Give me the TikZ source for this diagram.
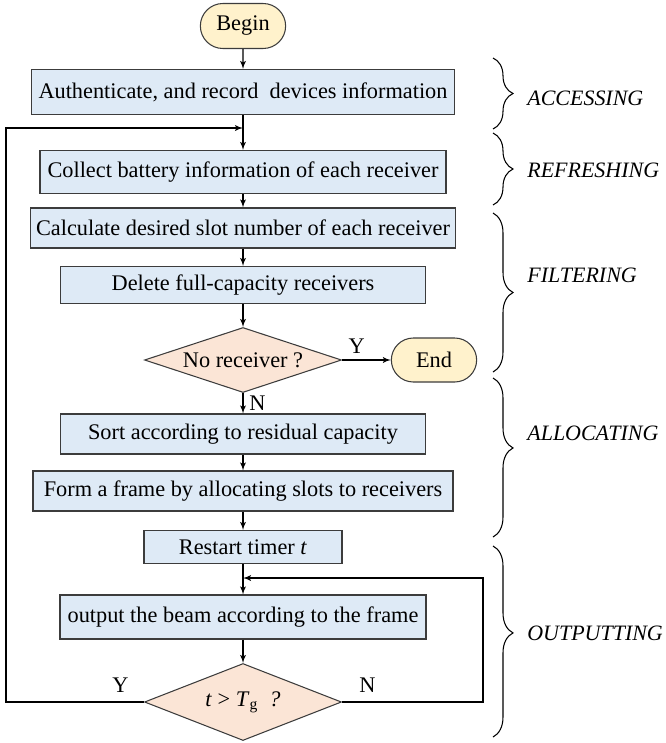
\documentclass[tikz,border=0pt]{standalone}
\usepackage{fontspec}
\setmainfont{Liberation Serif}
\usetikzlibrary{shapes,arrows,decorations.pathreplacing}
\definecolor{boxblue}{RGB}{222,234,246}
\definecolor{termyellow}{RGB}{255,242,204}
\definecolor{decpink}{RGB}{251,229,214}
\definecolor{edgegray}{RGB}{60,60,60}
\tikzstyle{blockBL} = [rectangle, draw=edgegray, fill=boxblue, text centered, minimum height=0.8cm]
\tikzstyle{terminalYL} = [rounded rectangle, draw=edgegray, fill=termyellow, minimum width=1.94cm, minimum height=0.9cm]
\tikzstyle{decisionPK} = [diamond, draw=edgegray, fill=decpink, aspect=3, inner sep=0pt, minimum width=3.94cm]
\tikzstyle{line} = [draw, -latex']
\tikzstyle{phase} = [draw, decorate, decoration={brace, amplitude=0.4cm}]
\tikzstyle{phaselabel} = [anchor=west, font=\fontsize{12.5}{14}\selectfont\itshape]

\begin{document}
\begin{tikzpicture}[node distance = 2cm, auto,
  font=\fontsize{12.7}{15}\selectfont, line width=0.6pt
  ]
    \useasboundingbox (0,0) rectangle (13.3,-14.86);

    % nodes
    \node [terminalYL] (begin) at (4.86,-0.52) {Begin};
    \node [blockBL, below of = begin, node distance = 1.32cm, minimum width=8.46cm, minimum height=0.9cm] (auth) {Authenticate, and record\ \ devices information};
    \coordinate [below of = auth, node distance = 0.72cm] (join1);
    \node [blockBL, below of = auth, node distance = 1.6cm, minimum width=8.12cm, minimum height=0.86cm] (collect) {Collect battery information of each receiver};
    \node [blockBL, below of = collect, node distance = 1.12cm, minimum width=8.48cm] (calc) {Calculate desired slot number of each receiver};
    \node [blockBL, below of = calc, node distance = 1.14cm, minimum width=7.3cm, minimum height=0.74cm] (delete) {Delete full-capacity receivers};
    \node [decisionPK, below of = delete, node distance = 1.5cm, minimum height=1.3cm] (norecv) {No receiver ?};
    \node [terminalYL, right of = norecv, node distance = 3.82cm, minimum height=0.88cm] (end) {End};
    \node [blockBL, below of = norecv, node distance = 1.48cm, minimum width=7.3cm] (sort) {Sort according to residual capacity};
    \node [blockBL, below of = sort, node distance = 1.14cm, minimum width=8.4cm] (form) {Form a frame by allocating slots to receivers};
    \node [blockBL, below of = form, node distance = 1.12cm, minimum width=3.96cm, minimum height=0.66cm] (restart) {Restart timer \textit{t}};
    \coordinate [below of = restart, node distance = 0.62cm] (join2);
    \node [blockBL, below of = restart, node distance = 1.4cm, minimum width=7.32cm, minimum height=0.88cm] (output) {output the beam according to the frame};
    \node [decisionPK, below of = output, node distance = 1.7cm, minimum height=1.54cm] (timeout) {\textit{t} > \textit{T}\textsubscript{g}\ \ \textit{?}};
    \coordinate (leftrail) at (0.12,0);
    \coordinate (rightrail) at (9.66,0);

    % edges
    \path [line] (begin) -- (auth);
    \path [line] (auth) -- (collect);
    \path [line] (collect) -- (calc);
    \path [line] (calc) -- (delete);
    \path [line] (delete) -- (norecv);
    \path [line] (norecv) -- node[pos=0.3,above] {Y} (end);
    \path [line] (norecv) -- node[midway,right] {N} (sort);
    \path [line] (sort) -- (form);
    \path [line] (form) -- (restart);
    \path [line] (restart) -- (output);
    \path [line] (output) -- (timeout);
    \path [line] (timeout.west) -- node[pos=0.17,above,yshift=2pt] {Y} (timeout.west -| leftrail) |- (join1);
    \path [line] (timeout.east) -- node[pos=0.18,above,yshift=2pt] {N} (timeout.east -| rightrail) |- (join2);

    % phases
    \draw [phase] (9.86,-1.16) -- (9.86,-2.58);
    \draw [phase] (9.86,-2.66) -- (9.86,-4.10);
    \draw [phase] (9.86,-4.26) -- (9.86,-7.44);
    \draw [phase, decoration={aspect=0.44}] (9.86,-7.56) -- (9.86,-10.74);
    \draw [phase, decoration={aspect=0.455}] (9.86,-10.92) -- (9.86,-14.74);
    \node [phaselabel] (l:access) at (10.42,-1.96) {ACCESSING};
    \node [phaselabel] (l:refresh) at (10.42,-3.40) {REFRESHING};
    \node [phaselabel] (l:filter) at (10.42,-5.50) {FILTERING};
    \node [phaselabel] (l:alloc) at (10.42,-8.66) {ALLOCATING};
    \node [phaselabel] (l:output) at (10.42,-12.66) {OUTPUTTING};
\end{tikzpicture}
\end{document}
